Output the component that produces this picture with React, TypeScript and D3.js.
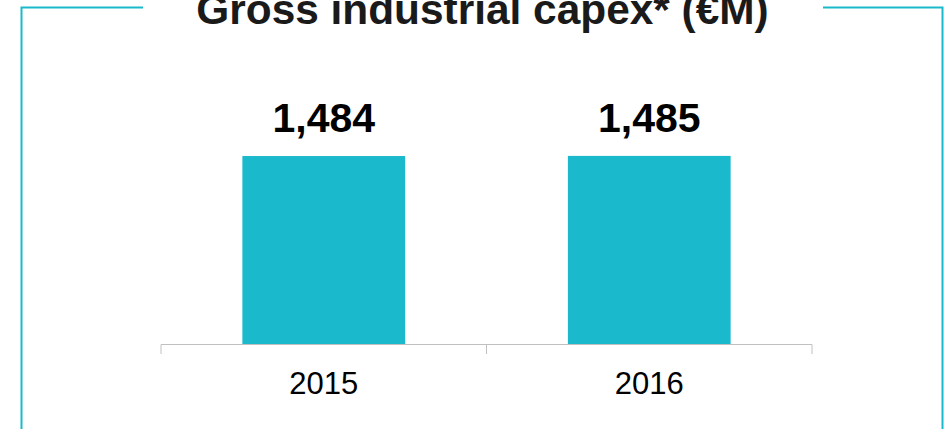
import React from "react";
import * as d3 from "d3";

const categories: string[] = ["2015", "2016"];
const values: number[] = [1484, 1485];
const valueLabels: string[] = ["1,484", "1,485"];
const title = "Gross industrial capex* (€M)";

const W = 949;
const H = 429;
const TEAL = "#1bb9cc";

export default function App() {
  const x = d3.scaleBand<string>().domain(categories).range([161, 812]).paddingInner(0.5).paddingOuter(0.25);
  const y = d3.scaleLinear().domain([0, 1800]).range([344.5, 115.9]);
  const tickXs = [161, ...categories.map((c) => (x(c) as number) + x.bandwidth() + x.step() * 0.25)];
  return (
    <svg width={W} height={H} style={{ position: "absolute", left: 0, top: 0, background: "#fff" }}
      fontFamily="'Liberation Sans', Arial, sans-serif">
      {/* frame */}
      <path d="M143,7.5 H21.5 V429" fill="none" stroke={TEAL} strokeWidth={2} />
      <path d="M823,7.5 H942.5 V429" fill="none" stroke={TEAL} strokeWidth={2} />
      <text x={482.5} y={24} textAnchor="middle" fontSize={42.4} fontWeight="bold" fill="#1a1a1a">{title}</text>
      {categories.map((c, i) => (
        <g key={c}>
          <rect x={x(c)} y={y(values[i])} width={x.bandwidth()} height={y(0) - y(values[i])} fill={TEAL} />
          <text x={(x(c) as number) + x.bandwidth() / 2} y={y(values[i]) - 24} textAnchor="middle"
            fontSize={41} fontWeight="bold" fill="#000">{valueLabels[i]}</text>
          <text x={(x(c) as number) + x.bandwidth() / 2} y={394} textAnchor="middle" fontSize={31} fill="#000">{c}</text>
        </g>
      ))}
      <line x1={161} x2={812} y1={344.5} y2={344.5} stroke="#c0c0c0" strokeWidth={1} />
      {tickXs.map((tx, i) => (
        <line key={i} x1={tx} x2={tx} y1={344.5} y2={354} stroke="#c0c0c0" strokeWidth={1} />
      ))}
    </svg>
  );
}
